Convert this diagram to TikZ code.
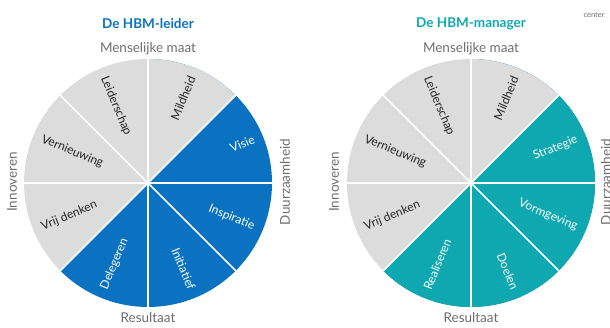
\documentclass[tikz,border=0pt]{standalone}
\usepackage{fontspec}
\setmainfont{Lato}
\definecolor{hbmblue}{RGB}{10,114,192}
\definecolor{hbmteal}{RGB}{15,168,176}
\definecolor{hbmgrey}{RGB}{220,220,220}
\definecolor{asgrey}{RGB}{110,110,110}
\begin{document}
\begin{tikzpicture}[x=1pt,y=1pt,every node/.style={inner sep=0pt},
	as/.style={text=asgrey,font=\fontsize{13.5}{15}\selectfont},
	titel/.style={font=\bfseries\fontsize{13.5}{16}\selectfont},
	deel/.style={text=black!85,font=\fontsize{12}{14}\selectfont},
	wit/.style={draw=white,line width=1.5pt}]
	\useasboundingbox (0,0) rectangle (610,327);
	\coordinate (L) at (148,144);
	\coordinate (R) at (471,144);
	% \foreach \p in {L,R}{ ... }
	\foreach \a/\b/\c in {0/90/hbmblue,90/225/hbmgrey,225/360/hbmblue}{
		\fill[\c] (L) -- ++(\a:124) arc (\a:\b:124) -- cycle;
		\fill[\c!100!hbmteal] (R) -- ++(\a:124) arc (\a:\b:124) -- cycle;
	}
	\fill[hbmgrey] (L) -- ++(45:124) arc (45:90:124) -- cycle;
	\fill[hbmgrey] (R) -- ++(45:124) arc (45:90:124) -- cycle;
	\fill[hbmteal] (R) -- ++(0:124) arc (0:45:124) -- cycle;
	\fill[hbmteal] (R) -- ++(225:124) arc (225:360:124) -- cycle;
	\foreach \a in {0,45,...,315}{
		\draw[wit] (L) -- ++(\a:124);
		\draw[wit] (R) -- ++(\a:124);
	}
	% left: De HBM-leider
	\node[titel,text=hbmblue] (tL) at (148,303) {De HBM-leider};
	\node[as] (mmL) at (148,278) {Menselijke maat};
	\node[as] (reL) at (148,9) {Resultaat};
	\node[as,rotate=90] (inL) at (12,145) {Innoveren};
	\node[as,rotate=90] (duL) at (285,145) {Duurzaamheid};
	\node[deel,rotate=67.5,anchor=east] (mildL) at ([shift={(67.5:115)}]L) {Mildheid};
	\node[deel,rotate=-67.5,anchor=west] (leidL) at ([shift={(112.5:115)}]L) {Leiderschap};
	\node[deel,rotate=-22.5,anchor=west] (vernL) at ([shift={(157.5:115)}]L) {Vernieuwing};
	\node[deel,rotate=22.5,anchor=west] (vrijL) at ([shift={(202.5:115)}]L) {Vrij denken};
	\node[deel,text=white,rotate=22.5,anchor=east] (visie) at ([shift={(22.5:115)}]L) {Visie};
	\node[deel,text=white,rotate=-22.5,anchor=east] (insp) at ([shift={(-22.5:115)}]L) {Inspiratie};
	\node[deel,text=white,rotate=-67.5,anchor=east] (init) at ([shift={(-67.5:115)}]L) {Initiatief};
	\node[deel,text=white,rotate=67.5,anchor=west] (deleg) at ([shift={(-112.5:115)}]L) {Delegeren};
	% right: De HBM-manager
	\node[titel,text=hbmteal] (tR) at (471,303) {De HBM-manager};
	\node[as] (mmR) at (471,278) {Menselijke maat};
	\node[as] (reR) at (471,9) {Resultaat};
	\node[as,rotate=90] (inR) at (334,145) {Innoveren};
	\node[as,rotate=90] (duR) at (606,145) {Duurzaamheid};
	\node[deel,rotate=67.5,anchor=east] (mildR) at ([shift={(67.5:115)}]R) {Mildheid};
	\node[deel,rotate=-67.5,anchor=west] (leidR) at ([shift={(112.5:115)}]R) {Leiderschap};
	\node[deel,rotate=-22.5,anchor=west] (vernR) at ([shift={(157.5:115)}]R) {Vernieuwing};
	\node[deel,rotate=22.5,anchor=west] (vrijR) at ([shift={(202.5:115)}]R) {Vrij denken};
	\node[deel,text=white,rotate=22.5,anchor=east] (strat) at ([shift={(22.5:115)}]R) {Strategie};
	\node[deel,text=white,rotate=-22.5,anchor=east] (vorm) at ([shift={(-22.5:115)}]R) {Vormgeving};
	\node[deel,text=white,rotate=-67.5,anchor=east] (doel) at ([shift={(-67.5:115)}]R) {Doelen};
	\node[deel,text=white,rotate=67.5,anchor=west] (real) at ([shift={(-112.5:115)}]R) {Realiseren};
	\node[text=asgrey,font=\fontsize{7.5}{9}\selectfont] (cen) at (594,312) {center};
\end{tikzpicture}
\end{document}
